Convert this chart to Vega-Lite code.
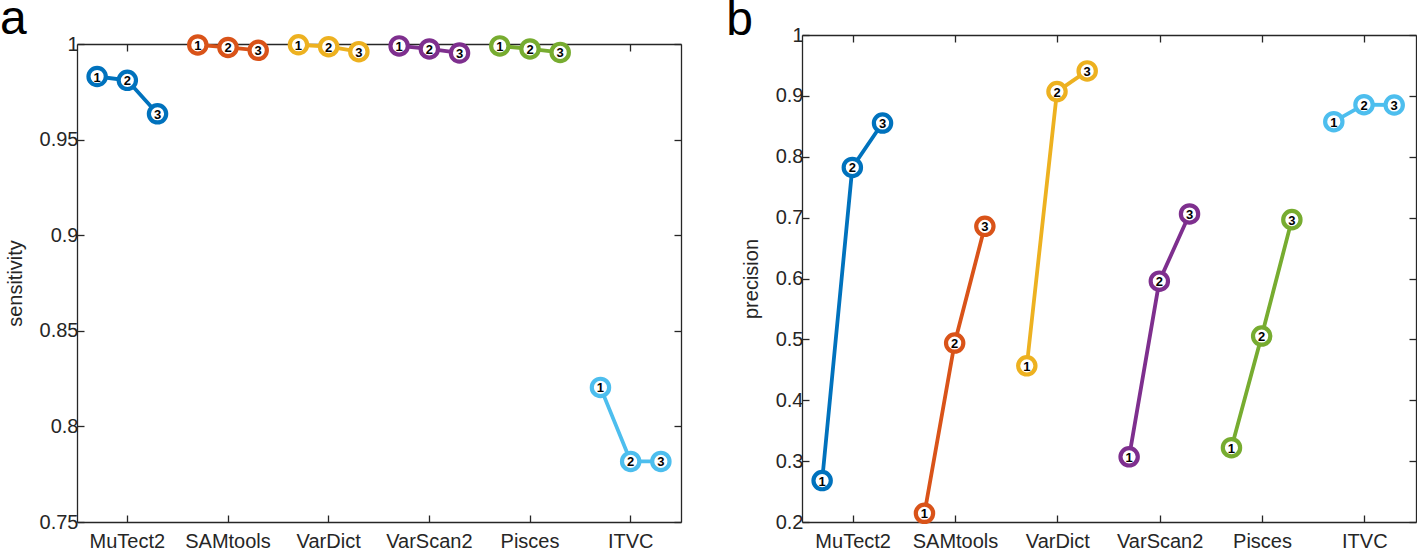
{
  "$schema": "https://vega.github.io/schema/vega-lite/v6.json",
  "padding": {"left": 0, "top": -5, "right": 0, "bottom": 0},
  "background": "white",
  "bounds": "flush",
  "datasets": {
    "sens": [
      {"tool": "MuTect2", "run": 1, "value": 0.983},
      {"tool": "MuTect2", "run": 2, "value": 0.981},
      {"tool": "MuTect2", "run": 3, "value": 0.9635},
      {"tool": "SAMtools", "run": 1, "value": 0.9995},
      {"tool": "SAMtools", "run": 2, "value": 0.9982},
      {"tool": "SAMtools", "run": 3, "value": 0.9967},
      {"tool": "VarDict", "run": 1, "value": 0.9996},
      {"tool": "VarDict", "run": 2, "value": 0.9986},
      {"tool": "VarDict", "run": 3, "value": 0.996},
      {"tool": "VarScan2", "run": 1, "value": 0.999},
      {"tool": "VarScan2", "run": 2, "value": 0.9974},
      {"tool": "VarScan2", "run": 3, "value": 0.9953},
      {"tool": "Pisces", "run": 1, "value": 0.999},
      {"tool": "Pisces", "run": 2, "value": 0.9974},
      {"tool": "Pisces", "run": 3, "value": 0.9956},
      {"tool": "ITVC", "run": 1, "value": 0.8204},
      {"tool": "ITVC", "run": 2, "value": 0.7817},
      {"tool": "ITVC", "run": 3, "value": 0.7817}
    ],
    "prec": [
      {"tool": "MuTect2", "run": 1, "value": 0.268},
      {"tool": "MuTect2", "run": 2, "value": 0.7824},
      {"tool": "MuTect2", "run": 3, "value": 0.8554},
      {"tool": "SAMtools", "run": 1, "value": 0.2143},
      {"tool": "SAMtools", "run": 2, "value": 0.494},
      {"tool": "SAMtools", "run": 3, "value": 0.6857},
      {"tool": "VarDict", "run": 1, "value": 0.4565},
      {"tool": "VarDict", "run": 2, "value": 0.907},
      {"tool": "VarDict", "run": 3, "value": 0.941},
      {"tool": "VarScan2", "run": 1, "value": 0.307},
      {"tool": "VarScan2", "run": 2, "value": 0.5956},
      {"tool": "VarScan2", "run": 3, "value": 0.706},
      {"tool": "Pisces", "run": 1, "value": 0.322},
      {"tool": "Pisces", "run": 2, "value": 0.5055},
      {"tool": "Pisces", "run": 3, "value": 0.6967},
      {"tool": "ITVC", "run": 1, "value": 0.8576},
      {"tool": "ITVC", "run": 2, "value": 0.8855},
      {"tool": "ITVC", "run": 3, "value": 0.885}
    ]
  },
  "hconcat": [
    {
      "width": 604,
      "height": 487,
      "title": {"text": "a", "fontSize": 48, "fontWeight": "normal", "font": "Liberation Sans", "color": "black", "anchor": "start", "frame": "bounds", "offset": -16, "dx": -5},
      "data": {"name": "sens"},
      "layer": [
        {
          "mark": {"type": "line", "strokeWidth": 3.8},
          "encoding": {
            "x": {"field": "tool", "type": "nominal", "scale": {"domain": ["MuTect2", "SAMtools", "VarDict", "VarScan2", "Pisces", "ITVC"], "paddingInner": 0, "paddingOuter": 0}, "axis": {"orient": "bottom", "title": null, "labelPadding": 16}},
            "xOffset": {"field": "run", "type": "ordinal", "scale": {"type": "point", "padding": 0.6667}},
            "y": {"field": "value", "type": "quantitative", "scale": {"domain": [0.75, 1], "range": [487, 9], "zero": false, "nice": false}, "axis": {"orient": "left", "title": "sensitivity", "values": [0.75, 0.8, 0.85, 0.9, 0.95, 1], "format": "~g", "labelPadding": 6, "titlePadding": 14}},
            "color": {"field": "tool", "type": "nominal", "scale": {"domain": ["MuTect2", "SAMtools", "VarDict", "VarScan2", "Pisces", "ITVC"], "range": ["#0072BD", "#D95319", "#EDB120", "#7E2F8E", "#77AC30", "#4DBEEE"]}, "legend": null},
            "order": {"field": "run", "type": "quantitative"}
          }
        },
        {
          "mark": {"type": "point", "shape": "circle", "filled": false, "fill": "white", "fillOpacity": 1, "opacity": 1, "size": 300, "strokeWidth": 4.2},
          "encoding": {
            "x": {"field": "tool", "type": "nominal", "axis": {"orient": "top", "title": null, "labels": false, "offset": -9}},
            "xOffset": {"field": "run", "type": "ordinal"},
            "y": {"field": "value", "type": "quantitative", "axis": {"orient": "right", "title": null, "labels": false, "values": [0.75, 0.8, 0.85, 0.9, 0.95, 1]}},
            "color": {"field": "tool", "type": "nominal", "legend": null}
          }
        },
        {
          "mark": {"type": "text", "fontSize": 13, "fontWeight": "bold", "font": "Liberation Sans", "color": "black", "align": "center", "baseline": "middle", "dy": 1},
          "encoding": {
            "x": {"field": "tool", "type": "nominal", "axis": null},
            "xOffset": {"field": "run", "type": "ordinal"},
            "y": {"field": "value", "type": "quantitative", "axis": null},
            "text": {"field": "run", "type": "nominal"}
          }
        }
      ],
      "resolve": {"axis": {"x": "independent", "y": "independent"}}
    },
    {
      "width": 614,
      "height": 487,
      "title": {"text": "b", "fontSize": 48, "fontWeight": "normal", "font": "Liberation Sans", "color": "black", "anchor": "start", "frame": "bounds", "offset": -20, "dx": -15},
      "data": {"name": "prec"},
      "layer": [
        {
          "mark": {"type": "line", "strokeWidth": 3.8},
          "encoding": {
            "x": {"field": "tool", "type": "nominal", "scale": {"domain": ["MuTect2", "SAMtools", "VarDict", "VarScan2", "Pisces", "ITVC"], "paddingInner": 0, "paddingOuter": 0}, "axis": {"orient": "bottom", "title": null, "labelPadding": 16}},
            "xOffset": {"field": "run", "type": "ordinal", "scale": {"type": "point", "padding": 0.6667}},
            "y": {"field": "value", "type": "quantitative", "scale": {"domain": [0.2, 1], "zero": false, "nice": false}, "axis": {"orient": "left", "title": "precision", "values": [0.2, 0.3, 0.4, 0.5, 0.6, 0.7, 0.8, 0.9, 1], "format": "~g", "labelPadding": 6, "titlePadding": 14}},
            "color": {"field": "tool", "type": "nominal", "scale": {"domain": ["MuTect2", "SAMtools", "VarDict", "VarScan2", "Pisces", "ITVC"], "range": ["#0072BD", "#D95319", "#EDB120", "#7E2F8E", "#77AC30", "#4DBEEE"]}, "legend": null},
            "order": {"field": "run", "type": "quantitative"}
          }
        },
        {
          "mark": {"type": "point", "shape": "circle", "filled": false, "fill": "white", "fillOpacity": 1, "opacity": 1, "size": 300, "strokeWidth": 4.2},
          "encoding": {
            "x": {"field": "tool", "type": "nominal", "axis": {"orient": "top", "title": null, "labels": false}},
            "xOffset": {"field": "run", "type": "ordinal"},
            "y": {"field": "value", "type": "quantitative", "axis": {"orient": "right", "title": null, "labels": false, "values": [0.2, 0.3, 0.4, 0.5, 0.6, 0.7, 0.8, 0.9, 1]}},
            "color": {"field": "tool", "type": "nominal", "legend": null}
          }
        },
        {
          "mark": {"type": "text", "fontSize": 13, "fontWeight": "bold", "font": "Liberation Sans", "color": "black", "align": "center", "baseline": "middle", "dy": 1},
          "encoding": {
            "x": {"field": "tool", "type": "nominal", "axis": null},
            "xOffset": {"field": "run", "type": "ordinal"},
            "y": {"field": "value", "type": "quantitative", "axis": null},
            "text": {"field": "run", "type": "nominal"}
          }
        }
      ],
      "resolve": {"axis": {"x": "independent", "y": "independent"}}
    }
  ],
  "spacing": 121,
  "config": {
    "view": {"stroke": null},
    "font": "Liberation Sans",
    "axis": {
      "domainColor": "#262626", "domainWidth": 1.3,
      "tickColor": "#262626", "tickWidth": 1.3, "tickSize": -7,
      "labelColor": "#262626", "labelFontSize": 20, "labelFont": "Liberation Sans",
      "titleFont": "Liberation Sans", "titleFontSize": 20, "titleFontWeight": "normal", "titleColor": "#262626",
      "grid": false, "labelAngle": 0
    }
  }
}
